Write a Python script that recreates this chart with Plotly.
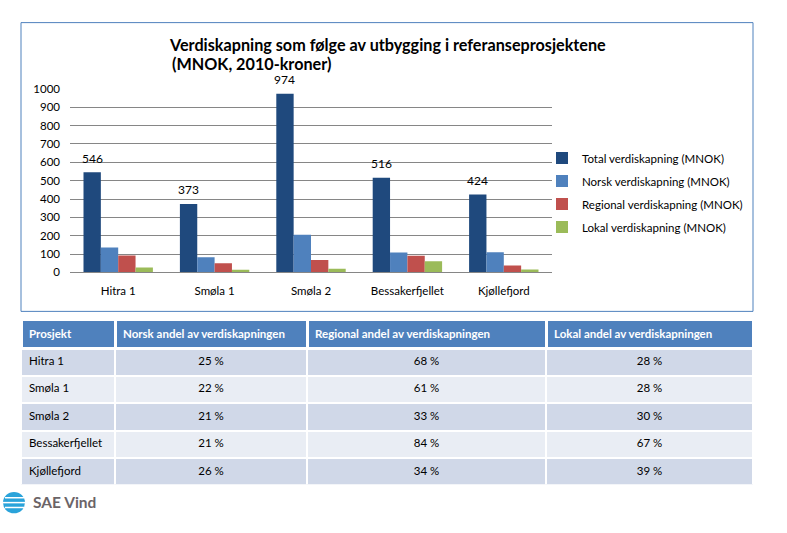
import plotly.graph_objects as go

W, H = 787, 533

categories = ["Hitra 1", "Smøla 1", "Smøla 2", "Bessakerfjellet", "Kjøllefjord"]
series_names = ["Total verdiskapning (MNOK)", "Norsk verdiskapning (MNOK)",
                "Regional verdiskapning (MNOK)", "Lokal verdiskapning (MNOK)"]
total = [546, 373, 974, 516, 424]
norsk = [136, 82, 205, 108, 110]
regional = [92, 50, 68, 91, 37]
lokal = [26, 14, 20, 61, 15]
colors = ["#1F497D", "#4F81BD", "#C0504D", "#9BBB59"]

table_header = ["Prosjekt", "Norsk andel av verdiskapningen",
                "Regional andel av verdiskapningen", "Lokal andel av verdiskapningen"]
norsk_andel = ["25 %", "22 %", "21 %", "21 %", "26 %"]
regional_andel = ["68 %", "61 %", "33 %", "84 %", "34 %"]
lokal_andel = ["28 %", "28 %", "30 %", "67 %", "39 %"]

FONT = "Lato"
BARGAP = 0.28
X0, X1 = 70, 552  # plot area in px

def px_x(p):
    return p / W

def px_y(p):
    return 1 - p / H

fig = go.Figure()
for name, vals, col in zip(series_names, [total, norsk, regional, lokal], colors):
    fig.add_trace(go.Bar(x=categories, y=vals, name=name, marker_color=col,
                         marker_line_width=0, legendgroup=name))

# value labels above the Total bars (first bar of each group)
slot_px = (X1 - X0) / len(categories)
bar_px = slot_px * (1 - BARGAP) / len(series_names)
label_shift = -1.5 * bar_px
label_annotations = [
    dict(x=c, y=v, xref="x", yref="y", text=str(v), showarrow=False,
         xshift=label_shift, yshift=14, yanchor="middle",
         font=dict(family=FONT, size=12, color="black"))
    for c, v in zip(categories, total)
]

row_fill = ["#D0D8E8", "#E9EDF4", "#D0D8E8", "#E9EDF4", "#D0D8E8"]
fig.add_trace(go.Table(
    domain=dict(x=[px_x(21), px_x(753)], y=[px_y(490), px_y(320)]),
    columnwidth=[94, 192, 239, 207],
    header=dict(values=[f"<b>{h}</b>" for h in table_header],
                fill_color="#4F81BD", line=dict(color="white", width=3),
                align="left", height=26,
                font=dict(family=FONT, size=11.5, color="white")),
    cells=dict(values=[categories, norsk_andel, regional_andel, lokal_andel],
               fill_color=[row_fill] * 4, line=dict(color="white", width=2),
               align=["left", "center", "center", "center"], height=27.5,
               font=dict(family=FONT, size=11.5, color="black")),
))

fig.update_layout(
    width=W, height=H, margin=dict(l=0, r=0, t=0, b=0),
    paper_bgcolor="white", plot_bgcolor="white",
    font=dict(family=FONT, size=11, color="black"),
    barmode="group", bargap=BARGAP, bargroupgap=0,
    showlegend=True,
    legend=dict(x=px_x(542), y=px_y(140), xanchor="left", yanchor="top",
                font=dict(family=FONT, size=11.5), tracegroupgap=4,
                itemwidth=30, bgcolor="rgba(0,0,0,0)"),
    xaxis=dict(domain=[px_x(X0), px_x(X1)], showgrid=False, showline=True,
               linecolor="#868686", linewidth=1, ticks="", ticklabelstandoff=8,
               tickfont=dict(size=11.5, family=FONT)),
    yaxis=dict(domain=[px_y(272), px_y(84)], range=[0, 1000], dtick=100,
               showgrid=True, gridcolor="#868686", gridwidth=1, zeroline=False,
               showline=False, ticks="", ticklabelstandoff=9,
               tickfont=dict(size=11.5, family=FONT)),
    annotations=label_annotations + [
        dict(x=px_x(167), y=px_y(38), xref="paper", yref="paper", xanchor="left",
             yanchor="middle", showarrow=False, align="left",
             text="<b>Verdiskapning som følge av utbygging i referanseprosjektene</b>",
             font=dict(family=FONT, size=16.2, color="black")),
        dict(x=px_x(170), y=px_y(58), xref="paper", yref="paper", xanchor="left",
             yanchor="middle", showarrow=False, align="left",
             text="<b>(MNOK, 2010-kroner)</b>",
             font=dict(family=FONT, size=16.2, color="black")),
        dict(x=px_x(31), y=px_y(507), xref="paper", yref="paper", xanchor="left",
             yanchor="middle", showarrow=False,
             text="<b>SAE Vind</b>", font=dict(family=FONT, size=15.5, color="#6B6467")),
    ],
    shapes=[
        dict(type="rect", xref="paper", yref="paper", x0=px_x(21), x1=px_x(753),
             y0=px_y(312), y1=px_y(16), line=dict(color="#4F81BD", width=1),
             fillcolor="rgba(0,0,0,0)", layer="below"),
        dict(type="circle", xref="paper", yref="paper", x0=px_x(3), x1=px_x(25),
             y0=px_y(519), y1=px_y(497), line=dict(width=0), fillcolor="#2AA3DA"),
        dict(type="line", xref="paper", yref="paper", x0=px_x(5), x1=px_x(24),
             y0=px_y(503), y1=px_y(503), line=dict(color="white", width=1.5)),
        dict(type="line", xref="paper", yref="paper", x0=px_x(3), x1=px_x(25),
             y0=px_y(508), y1=px_y(508), line=dict(color="white", width=1.5)),
        dict(type="line", xref="paper", yref="paper", x0=px_x(5), x1=px_x(24),
             y0=px_y(513), y1=px_y(513), line=dict(color="white", width=1.5)),
    ],
)

fig.write_html("out.html", config={"displayModeBar": False},
               post_script="document.body.style.margin='0';")
